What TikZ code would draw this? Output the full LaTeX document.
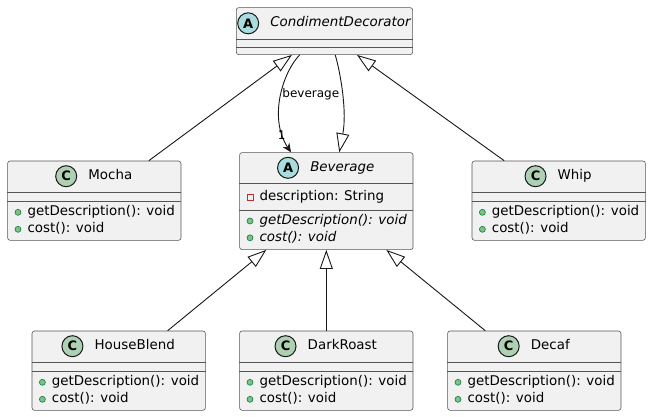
\documentclass[tikz,border=0pt]{standalone}
\usepackage{fontspec}
\setmainfont{DejaVu Sans}
\usetikzlibrary{arrows.meta,positioning,calc}
\definecolor{boxC}{HTML}{F1F1F1}
\definecolor{lineC}{HTML}{181818}
\definecolor{edgeC}{HTML}{555555}
\definecolor{absC}{HTML}{A9DCDF}
\definecolor{clsC}{HTML}{ADD1B2}
\definecolor{privC}{HTML}{C82930}
\definecolor{pubF}{HTML}{84BE84}
\definecolor{pubD}{HTML}{038048}
\begin{document}
\begin{tikzpicture}[x=1pt,y=-1pt,
  cbox/.style={draw=edgeC, fill=boxC, line width=0.6pt, rounded corners=2.5pt, minimum width=173.4pt, minimum height=79.3pt, inner sep=0pt, anchor=north west},
  cname/.style={inner sep=0pt, font=\fontsize{13.4}{16}\selectfont, text height=10pt, text depth=3pt},
  icon/.style={circle, draw=lineC, line width=1pt, minimum size=21pt, inner sep=0pt, font=\fontsize{13}{13}\selectfont\bfseries},
  aicon/.style={icon, fill=absC},
  cicon/.style={icon, fill=clsC},
  sepl/.style={draw=edgeC, line width=0.6pt},
  member/.style={anchor=west, inner sep=0pt, font=\fontsize{13.4}{16}\selectfont, text height=10pt, text depth=3pt},
  pub/.style={circle, draw=pubD, fill=pubF, line width=0.6pt, minimum size=6pt, inner sep=0pt},
  priv/.style={rectangle, draw=privC, line width=1pt, minimum size=6pt, inner sep=0pt},
  ext/.style={draw=lineC, line width=0.9pt, -{Triangle[fill=white, length=19pt, width=13pt]}},
  assoc/.style={draw=lineC, line width=0.9pt, -{Stealth[length=9pt, width=8pt, inset=3pt]}},
  lbl/.style={inner sep=0pt, font=\fontsize{12}{14}\selectfont}
]
\useasboundingbox (0,0) rectangle (650,416);
\fill[white] (0,0) rectangle (650,416);

% CondimentDecorator
\node[cbox, minimum width=176.3pt, minimum height=47pt] (cd) at (236,7.3) {};
\node[cname] (cdn) at ($(cd.north)+(16,16)$) {\itshape CondimentDecorator};
\node[aicon, left=11pt of cdn] (cdi) {A};
\draw[sepl] ([yshift=-32pt]cd.north west) -- ([yshift=-32pt]cd.north east);
\draw[sepl] ([yshift=-40pt]cd.north west) -- ([yshift=-40pt]cd.north east);

% Beverage
\node[cbox, minimum height=97pt] (bev) at (239.3,152.3) {};
\node[cname] (bevn) at ($(bev.north)+(16,15.5)$) {\itshape Beverage};
\node[aicon, left=11pt of bevn] (bevi) {A};
\draw[sepl] ([yshift=-31pt]bev.north west) -- ([yshift=-31pt]bev.north east);
\draw[sepl] ([yshift=-57.7pt]bev.north west) -- ([yshift=-57.7pt]bev.north east);
\node[priv] (bevp) at ($(bev.north west)+(10.7,44.7)$) {};
\node[member] (beva) at ($(bev.north west)+(20,44.7)$) {description: String};
\node[pub] (bevq1) at ($(bev.north west)+(10.7,68.7)$) {};
\node[member] (bevm1) at ($(bev.north west)+(20,68.7)$) {\itshape getDescription(): void};
\node[pub] (bevq2) at ($(bev.north west)+(10.7,85.5)$) {};
\node[member] (bevm2) at ($(bev.north west)+(20,85.5)$) {\itshape cost(): void};

% Mocha
\node[cbox] (mo) at (7.3,160.7) {};
\node[cname] (mon) at ($(mo.north)+(16,15.5)$) {Mocha};
\node[cicon, left=11pt of mon] (moi) {C};
\draw[sepl] ([yshift=-31.6pt]mo.north west) -- ([yshift=-31.6pt]mo.north east);
\draw[sepl] ([yshift=-41pt]mo.north west) -- ([yshift=-41pt]mo.north east);
\node[pub] (moq1) at ($(mo.north west)+(10.7,51.6)$) {};
\node[member] (mom1) at ($(mo.north west)+(20,51.6)$) {getDescription(): void};
\node[pub] (moq2) at ($(mo.north west)+(10.7,68.6)$) {};
\node[member] (mom2) at ($(mo.north west)+(20,68.6)$) {cost(): void};

% Whip
\node[cbox] (wh) at (471.7,160.7) {};
\node[cname] (whn) at ($(wh.north)+(16,15.5)$) {Whip};
\node[cicon, left=11pt of whn] (whi) {C};
\draw[sepl] ([yshift=-31.6pt]wh.north west) -- ([yshift=-31.6pt]wh.north east);
\draw[sepl] ([yshift=-41pt]wh.north west) -- ([yshift=-41pt]wh.north east);
\node[pub] (whq1) at ($(wh.north west)+(10.7,51.6)$) {};
\node[member] (whm1) at ($(wh.north west)+(20,51.6)$) {getDescription(): void};
\node[pub] (whq2) at ($(wh.north west)+(10.7,68.6)$) {};
\node[member] (whm2) at ($(wh.north west)+(20,68.6)$) {cost(): void};

% HouseBlend
\node[cbox] (hb) at (31.7,330.7) {};
\node[cname] (hbn) at ($(hb.north)+(16,15.5)$) {HouseBlend};
\node[cicon, left=11pt of hbn] (hbi) {C};
\draw[sepl] ([yshift=-31.6pt]hb.north west) -- ([yshift=-31.6pt]hb.north east);
\draw[sepl] ([yshift=-41pt]hb.north west) -- ([yshift=-41pt]hb.north east);
\node[pub] (hbq1) at ($(hb.north west)+(10.7,51.6)$) {};
\node[member] (hbm1) at ($(hb.north west)+(20,51.6)$) {getDescription(): void};
\node[pub] (hbq2) at ($(hb.north west)+(10.7,68.6)$) {};
\node[member] (hbm2) at ($(hb.north west)+(20,68.6)$) {cost(): void};

% DarkRoast
\node[cbox] (dr) at (239.3,330.7) {};
\node[cname] (drn) at ($(dr.north)+(16,15.5)$) {DarkRoast};
\node[cicon, left=11pt of drn] (dri) {C};
\draw[sepl] ([yshift=-31.6pt]dr.north west) -- ([yshift=-31.6pt]dr.north east);
\draw[sepl] ([yshift=-41pt]dr.north west) -- ([yshift=-41pt]dr.north east);
\node[pub] (drq1) at ($(dr.north west)+(10.7,51.6)$) {};
\node[member] (drm1) at ($(dr.north west)+(20,51.6)$) {getDescription(): void};
\node[pub] (drq2) at ($(dr.north west)+(10.7,68.6)$) {};
\node[member] (drm2) at ($(dr.north west)+(20,68.6)$) {cost(): void};

% Decaf
\node[cbox] (de) at (447.3,330.7) {};
\node[cname] (den) at ($(de.north)+(16,15.5)$) {Decaf};
\node[cicon, left=11pt of den] (dei) {C};
\draw[sepl] ([yshift=-31.6pt]de.north west) -- ([yshift=-31.6pt]de.north east);
\draw[sepl] ([yshift=-41pt]de.north west) -- ([yshift=-41pt]de.north east);
\node[pub] (deq1) at ($(de.north west)+(10.7,51.6)$) {};
\node[member] (dem1) at ($(de.north west)+(20,51.6)$) {getDescription(): void};
\node[pub] (deq2) at ($(de.north west)+(10.7,68.6)$) {};
\node[member] (dem2) at ($(de.north west)+(20,68.6)$) {cost(): void};

% connectors
\draw[ext] ([xshift=54.5pt]mo.north) -- ([xshift=-32.5pt]cd.south);
\draw[ext] ([xshift=-54.5pt]wh.north) -- ([xshift=32.5pt]cd.south);
\draw[assoc] ([xshift=-24.8pt]cd.south) .. controls (283,72) and (268,118) .. ([xshift=-35.3pt]bev.north);
\draw[ext] ([xshift=10.8pt]cd.south) .. controls (341,75) and (347,112) .. ([xshift=13pt]bev.north);
\node[lbl] (lb1) at (310.8,94.3) {beverage};
\node[lbl] (lb2) at (281.7,135) {1};
\draw[ext] ([xshift=48.9pt]hb.north) -- ([xshift=-60pt]bev.south);
\draw[ext] (dr.north) -- (bev.south);
\draw[ext] ([xshift=-49pt]de.north) -- ([xshift=60pt]bev.south);
\end{tikzpicture}
\end{document}
